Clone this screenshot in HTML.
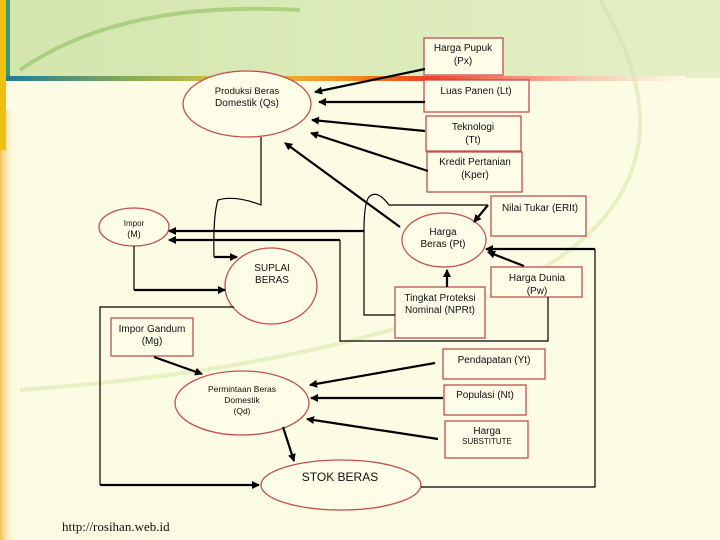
<!DOCTYPE html>
<html><head><meta charset="utf-8"><style>
html,body{margin:0;padding:0;width:720px;height:540px;overflow:hidden;background:#fcfce4}
svg{display:block}
text{font-family:"Liberation Sans",sans-serif;fill:#111}
</style></head><body>
<svg width="720" height="540" viewBox="0 0 720 540" xmlns="http://www.w3.org/2000/svg">
<defs>
<linearGradient id="hdr" x1="0" y1="0" x2="1" y2="0">
<stop offset="0" stop-color="#d3e6ad"/><stop offset="1" stop-color="#e4efc6"/></linearGradient>
<linearGradient id="band" x1="0" y1="0" x2="1" y2="0">
<stop offset="0" stop-color="#1f7a9a"/><stop offset="0.2" stop-color="#8fb050"/><stop offset="0.35" stop-color="#e8c040"/><stop offset="0.5" stop-color="#f09020"/><stop offset="0.62" stop-color="#f04020"/><stop offset="0.85" stop-color="#f8c8b0"/><stop offset="1" stop-color="#fcfce4"/></linearGradient>
<linearGradient id="lside" x1="0" y1="0" x2="1" y2="0">
<stop offset="0" stop-color="#f0c050"/><stop offset="1" stop-color="#fcfce4" stop-opacity="0"/></linearGradient>
<marker id="a" markerWidth="8" markerHeight="8" refX="7" refY="4" orient="auto" markerUnits="userSpaceOnUse">
<path d="M0,0 L8,4 L0,8 z" fill="#000"/></marker>
</defs>
<rect x="0" y="0" width="720" height="78" fill="url(#hdr)"/>
<rect x="0" y="110" width="16" height="430" fill="url(#lside)"/>
<rect x="0" y="0" width="6" height="150" fill="#f0c010"/>
<rect x="6" y="0" width="4" height="80" fill="#3a9a70"/>
<rect x="6" y="76" width="680" height="5" fill="url(#band)"/>
<path d="M20,70 Q120,0 300,10" stroke="#8fc060" stroke-width="4" fill="none" opacity="0.6"/>
<path d="M600,0 Q720,200 480,300 Q300,370 20,390" stroke="#cfe3a0" stroke-width="4" fill="none" opacity="0.5"/>

<g fill="#fdfde8" stroke="#c0504d" stroke-width="1.3">
<rect x="424" y="38" width="79" height="37"/>
<rect x="424" y="80" width="105" height="32"/>
<rect x="426" y="116" width="95" height="35"/>
<rect x="427" y="152" width="95" height="40"/>
<rect x="491" y="196" width="95" height="40"/>
<rect x="491" y="267" width="91" height="30"/>
<rect x="395" y="287" width="90" height="51"/>
<rect x="111" y="318" width="82" height="38"/>
<rect x="443" y="349" width="102" height="30"/>
<rect x="444" y="385" width="82" height="30"/>
<rect x="445" y="421" width="83" height="37"/>
<ellipse cx="247" cy="104" rx="64" ry="33"/>
<ellipse cx="134" cy="227" rx="35" ry="19"/>
<ellipse cx="444" cy="240" rx="42" ry="27"/>
<ellipse cx="271" cy="286" rx="46" ry="38"/>
<ellipse cx="242" cy="403" rx="67" ry="32"/>
<ellipse cx="341" cy="485" rx="80" ry="25"/>
</g>

<g stroke="#000" fill="none" stroke-width="1.2">
<path d="M234,307 H100 V485"/>
<path d="M421,487 H595 V249"/>
<path d="M340,240 V341 H548 V297"/>
<path d="M364,231 V315 H395"/>
<path d="M134,246 V290"/>
<path d="M488,205 H389 Q378,190 370,196 Q364,200 364,231"/>
<path d="M261,137 V205 Q235,195 218,200 Q213,215 214,257"/>
</g>
<g stroke="#000" fill="none" stroke-width="2.2" marker-end="url(#a)">
<path d="M425,69 L315,92"/>
<path d="M425,102 L319,102"/>
<path d="M425,131 L312,120"/>
<path d="M428,171 L311,133"/>
<path d="M400,227 L285,143"/>
<path d="M364,231 L169,231"/>
<path d="M340,240 L169,240"/>
<path d="M488,205 L474,222"/>
<path d="M595,249 L486,249"/>
<path d="M524,266 L488,252"/>
<path d="M447,287 L447,270"/>
<path d="M134,290 L225,290"/>
<path d="M214,257 L237,257"/>
<path d="M100,485 L259,485"/>
<path d="M154,357 L202,374"/>
<path d="M435,363 L310,385"/>
<path d="M443,398 L311,398"/>
<path d="M438,439 L307,419"/>
<path d="M283,427 L294,461"/>
</g>

<g font-size="10" text-anchor="middle">
<text x="463" y="51">Harga Pupuk</text><text x="463" y="64">(Px)</text>
<text x="476" y="94">Luas Panen (Lt)</text>
<text x="473" y="130">Teknologi</text><text x="473" y="143">(Tt)</text>
<text x="475" y="165">Kredit Pertanian</text><text x="475" y="178">(Kper)</text>
<text x="540" y="211">Nilai Tukar (ERIt)</text>
<text x="537" y="281">Harga Dunia</text><text x="537" y="294">(Pw)</text>
<text x="440" y="301">Tingkat Proteksi</text><text x="440" y="313">Nominal (NPRt)</text>
<text x="152" y="332">Impor Gandum</text><text x="152" y="344">(Mg)</text>
<text x="494" y="363">Pendapatan (Yt)</text>
<text x="485" y="398">Populasi (Nt)</text>
<text x="487" y="434">Harga</text><text x="487" y="444" font-size="8">SUBSTITUTE</text>
<text x="247" y="94" font-size="9.5">Produksi Beras</text><text x="247" y="106">Domestik (Qs)</text>
<text x="134" y="226" font-size="8">Impor</text><text x="134" y="237" font-size="9">(M)</text>
<text x="443" y="235">Harga</text><text x="443" y="247">Beras (Pt)</text>
<text x="272" y="271">SUPLAI</text><text x="272" y="283">BERAS</text>
<text x="242" y="392" font-size="8.5">Permintaan Beras</text><text x="242" y="403" font-size="8.5">Domestik</text><text x="242" y="414" font-size="8.5">(Qd)</text>
<text x="340" y="481" font-size="12">STOK BERAS</text>
</g>
<text x="62" y="531" font-size="13" style="font-family:'Liberation Serif',serif">http://rosihan.web.id</text>
</svg>
</body></html>
